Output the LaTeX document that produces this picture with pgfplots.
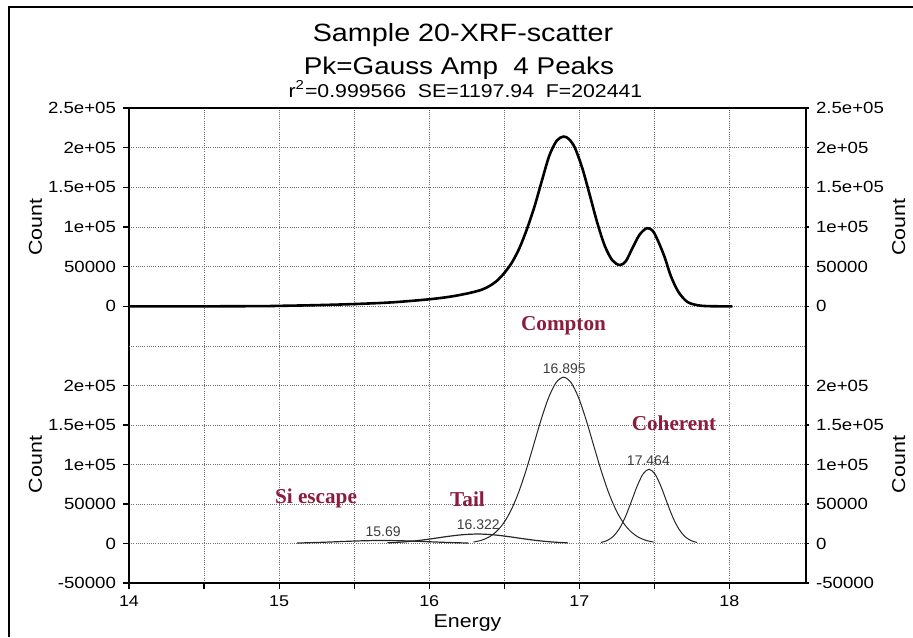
\documentclass[border=0pt]{standalone}
\usepackage{fontspec}
\setmainfont{Liberation Sans}[FakeStretch=1.15]
\newfontfamily\plainsans{Liberation Sans}
\newfontfamily\annotfont{Liberation Serif}
\usepackage{pgfplots}
\usepackage{pgfplotstable}
\pgfplotsset{compat=1.18}
\definecolor{annot}{RGB}{140,28,62}
\definecolor{gridc}{RGB}{110,110,110}
\definecolor{peaklab}{RGB}{60,60,60}

% measured data (upper panel)
\pgfplotstableread{
x y
14.00 0
14.50 0
14.90 300
15.00 600
15.25 1500
15.50 2900
15.75 5000
16.00 8900
16.15 12500
16.27 16900
16.35 21000
16.40 25500
16.45 32000
16.50 42000
16.55 55000
16.60 73000
16.65 97000
16.70 125000
16.75 158000
16.80 190000
16.85 209000
16.895 214000
16.93 211000
16.97 200000
17.02 174000
17.07 140000
17.12 105000
17.17 76000
17.22 58000
17.27 52000
17.31 57000
17.35 72000
17.40 90000
17.45 98500
17.49 95000
17.53 80000
17.57 61000
17.61 38000
17.66 18200
17.72 5500
17.79 1300
17.85 300
17.95 0
18.02 0
}\totaldata

% fitted peaks (lower panel)
\pgfplotstableread{
x y
15.12 625
15.19 950
15.29 1560
15.39 2300
15.49 3040
15.59 3595
15.69 3800
15.79 3595
15.89 3040
15.99 2300
16.09 1560
16.19 950
16.26 625
}\siescape

\pgfplotstableread{
x y
15.722 840
15.822 1890
15.922 3670
16.022 6170
16.122 8930
16.222 11140
16.322 12000
16.422 11140
16.522 8930
16.622 6170
16.722 3670
16.822 1890
16.922 840
}\tail

\pgfplotstableread{
x y
16.295 1850
16.345 3940
16.395 7860
16.445 14680
16.495 25680
16.545 42050
16.595 64460
16.645 92540
16.695 124410
16.745 156590
16.795 184570
16.845 203700
16.895 210500
16.945 203700
16.995 184570
17.045 156590
17.095 124410
17.145 92540
17.195 64460
17.245 42050
17.295 25680
17.345 14680
17.395 7860
17.445 3940
17.495 1850
}\compton

\pgfplotstableread{
x y
17.144 1370
17.184 3680
17.224 8700
17.264 18000
17.304 32630
17.344 51850
17.384 72150
17.424 87980
17.464 94000
17.504 87980
17.544 72150
17.584 51850
17.624 32630
17.664 18000
17.704 8700
17.744 3680
17.784 1370
}\coherent

\pgfplotsset{
  base/.style={
    scale only axis, width=338.5pt,
    xmin=14, xmax=18.51, ymin=-50000, ymax=250000,
    xtick={14,15,16,17,18}, minor xtick={14.5,15.5,16.5,17.5},
    scaled y ticks=false, scaled x ticks=false,
    grid=both,
    major grid style={gridc, line width=0.5pt, dash pattern=on 0.5pt off 0.6pt},
    minor grid style={gridc, line width=0.5pt, dash pattern=on 0.5pt off 0.6pt},
    tick align=outside,
    major tick length=3pt, minor tick length=3pt,
    tick style={black, line width=0.6pt},
    axis line style={black, line width=0.6pt},
    /pgf/number format/assume math mode=true,
    yticklabel style={font=\fontsize{8.1}{9}\selectfont},
    xticklabel style={font=\fontsize{7.8}{9}\selectfont},
    label style={font=\fontsize{9.3}{11}\selectfont},
    clip=false,
  },
}

\begin{document}
\begin{tikzpicture}
\useasboundingbox (0,0) rectangle (456.5pt,-318.5pt);
\draw[line width=0.8pt] (4.5pt,-318.5pt) -- (4.5pt,-3.5pt) -- (456.5pt,-3.5pt);

% titles
\node[anchor=base, font=\fontsize{12.5}{14}\selectfont] at (231.5pt,-20.5pt) {Sample 20-XRF-scatter};
\node[anchor=base, font=\fontsize{12.1}{14}\selectfont] at (229.5pt,-37pt) {Pk=Gauss Amp\ \ 4 Peaks};
\node[anchor=base, font=\fontsize{9.25}{11}\selectfont] at (232.75pt,-48.5pt) {r\textsuperscript{2}=0.999566\ \ SE=1197.94\ \ F=202441};

% ---------- upper panel ----------
\begin{axis}[base, at={(64.5pt,-173pt)}, anchor=south west, height=119pt,
  axis x line*=top, axis y line*=left,
  xticklabels={}, xtick style={draw=none},
  every minor x tick/.append style={draw=none},
  ytick={0,50000,100000,150000,200000,250000},
  yticklabels={0,50000,1e+05,1.5e+05,2e+05,2.5e+05},
  ylabel={Count},
  ylabel style={at={(axis description cs:-0.138,0.5)}, anchor=center},
]
\addplot[black, line width=1.3pt, smooth] table {\totaldata};
\end{axis}
\begin{axis}[base, at={(64.5pt,-173pt)}, anchor=south west, height=119pt,
  axis x line=none, axis y line*=right, grid=none,
  major tick length=1.5pt,
  ytick={0,50000,100000,150000,200000,250000},
  yticklabels={0,50000,1e+05,1.5e+05,2e+05,2.5e+05},
  ylabel={Count},
  ylabel style={at={(axis description cs:1.137,0.5)}, anchor=center},
]
\end{axis}

% ---------- lower panel ----------
\begin{axis}[base, at={(64.5pt,-291.5pt)}, anchor=south west, height=118.5pt,
  axis x line*=bottom, axis y line*=left,
  ytick={-50000,0,50000,100000,150000,200000},
  yticklabels={-50000,0,50000,1e+05,1.5e+05,2e+05},
  extra y ticks={250000}, extra y tick labels={},
  extra y tick style={major tick length=0pt, grid=major},
  ylabel={Count},
  ylabel style={at={(axis description cs:-0.138,0.5)}, anchor=center},
  xlabel={Energy},
  xlabel style={at={(axis description cs:0.5,-0.1857)}, anchor=base},
]
\addplot[black!85, line width=0.6pt, smooth] table {\siescape};
\addplot[black!85, line width=0.6pt, smooth] table {\tail};
\addplot[black!85, line width=0.5pt, smooth] table {\compton};
\addplot[black!85, line width=0.5pt, smooth] table {\coherent};
\node[font=\plainsans\fontsize{7}{8}\selectfont, text=peaklab] at (axis cs:16.9,221800) {16.895};
\node[font=\plainsans\fontsize{7}{8}\selectfont, text=peaklab] at (axis cs:17.46,105000) {17.464};
\node[font=\plainsans\fontsize{7}{8}\selectfont, text=peaklab] at (axis cs:16.327,23700) {16.322};
\node[font=\plainsans\fontsize{7}{8}\selectfont, text=peaklab] at (axis cs:15.693,14900) {15.69};
\end{axis}
\begin{axis}[base, at={(64.5pt,-291.5pt)}, anchor=south west, height=118.5pt,
  axis x line=none, axis y line*=right, grid=none,
  major tick length=1.5pt,
  ytick={-50000,0,50000,100000,150000,200000},
  yticklabels={-50000,0,50000,1e+05,1.5e+05,2e+05},
  ylabel={Count},
  ylabel style={at={(axis description cs:1.137,0.5)}, anchor=center},
]
\end{axis}

% peak annotations
\node[anchor=base, text=annot, font=\annotfont\bfseries\fontsize{10.6}{12}\selectfont] at (281.75pt,-165.25pt) {Compton};
\node[anchor=base, text=annot, font=\annotfont\bfseries\fontsize{10.6}{12}\selectfont] at (337pt,-215pt) {Coherent};
\node[anchor=base, text=annot, font=\annotfont\bfseries\fontsize{10.6}{12}\selectfont] at (158pt,-251.6pt) {Si escape};
\node[anchor=base, text=annot, font=\annotfont\bfseries\fontsize{10.6}{12}\selectfont] at (233.75pt,-253pt) {Tail};
\end{tikzpicture}
\end{document}
